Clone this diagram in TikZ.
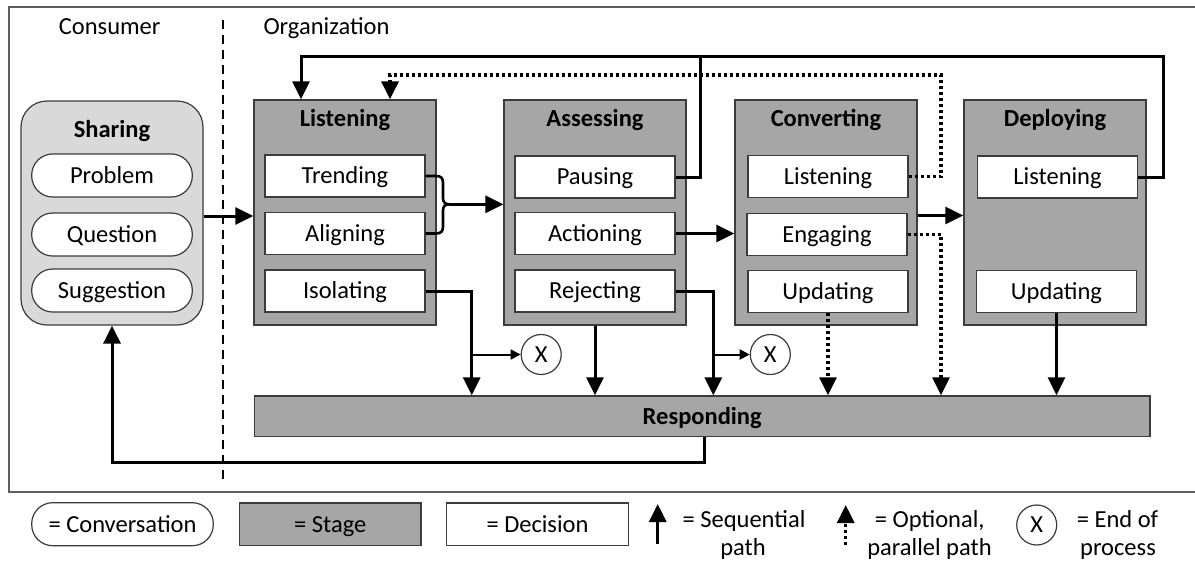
\documentclass[tikz,border=0pt]{standalone}
\usepackage{fontspec}
\setmainfont{Carlito}
\usetikzlibrary{arrows.meta}

\definecolor{stagegray}{HTML}{A6A6A6}
\definecolor{sharegray}{HTML}{D9D9D9}
\definecolor{edgegray}{HTML}{3C3C3C}
\definecolor{framegray}{HTML}{5E5E5E}

\begin{document}
\begin{tikzpicture}[x=1pt,y=-1pt,
  font=\fontsize{24.5}{28.5}\selectfont,
  every node/.style={text height=20.8pt, text depth=5pt, inner sep=0pt},
  stagebox/.style={draw=edgegray, line width=1.3pt, fill=stagegray,
    minimum width=182pt, minimum height=225pt},
  decision/.style={draw=edgegray, line width=1.3pt, fill=white,
    minimum width=160pt, minimum height=42pt},
  convo/.style={draw=edgegray, line width=1.2pt, fill=white,
    rounded corners=21pt, minimum width=160.6pt, minimum height=43pt},
  title/.style={font=\fontsize{24.5}{28.5}\selectfont\bfseries},
  endx/.style={circle, draw=edgegray, line width=1.2pt, fill=white,
    minimum size=40pt, text height=15.8pt, text depth=0pt},
  seqline/.style={line width=3pt, line join=miter},
  seq/.style={seqline, -{Triangle[length=18pt,width=17pt]}},
  optline/.style={line width=3.2pt, dash pattern=on 3pt off 3pt},
  opt/.style={optline, -{Triangle[length=18pt,width=17pt]}},
  branch/.style={line width=2pt, -{Triangle[length=10pt,width=10pt]}},
  lane/.style={line width=2pt, dash pattern=on 9pt off 6pt},
  frame/.style={draw=framegray, line width=2pt}
]
\useasboundingbox (0,0) rectangle (1195,562);

% outer frame (open to the right)
\draw[frame] (1195,6.7) -- (9.3,6.7) -- (9.3,491.7) -- (1195,491.7);

% swim-lane divider and lane labels
\coordinate (laneTop) at (222.7,20);
\coordinate (laneBot) at (222.7,482);
\draw[lane] (laneTop) -- (laneBot);
\node (consumer) at (109.7,26.7) {Consumer};
\node (org) at (326.5,26.7) {Organization};

% consumer side: sharing conversations
\node[draw=edgegray, line width=1.2pt, fill=sharegray, rounded corners=26pt,
  minimum width=182pt, minimum height=224pt] (sharing) at (112,213) {};
\node[title] (sharingT) at (112,130) {Sharing};
\node[convo] (problem) at (112,175.5) {Problem};
\node[convo] (question) at (112,234.5) {Question};
\node[convo] (suggestion) at (112,290.5) {Suggestion};

% organization stages
\node[stagebox] (listenS) at (345,212.5) {};
\node[stagebox] (assessS) at (595,212.5) {};
\node[stagebox] (convS) at (826,212.5) {};
\node[stagebox] (deploS) at (1055,212.5) {};

\node[title] (listenT) at (345,118.5) {Listening};
\node[title] (assessT) at (595,118.5) {Assessing};
\node[title] (convT) at (826,118.5) {Converting};
\node[title] (deploT) at (1055,118.5) {Deploying};

% decisions inside the stages
\node[decision] (trending) at (345,176) {Trending};
\node[decision] (aligning) at (345,233.5) {Aligning};
\node[decision] (isolating) at (345,291) {Isolating};

\node[decision] (pausing) at (595,177) {Pausing};
\node[decision] (actioning) at (595,233.5) {Actioning};
\node[decision] (rejecting) at (595,291) {Rejecting};

\node[decision] (clisten) at (828,176.5) {Listening};
\node[decision] (engaging) at (827,234.5) {Engaging};
\node[decision] (cupdating) at (828,291.3) {Updating};

\node[decision] (dlisten) at (1057.5,177) {Listening};
\node[decision] (dupdating) at (1056.5,291.3) {Updating};

% responding stage
\node[draw=edgegray, line width=1.3pt, fill=stagegray, minimum width=895.7pt,
  minimum height=40.7pt, title] (resp) at (702.2,416.3) {Responding};

% end-of-process markers
\node[endx] (x1) at (541.2,354.5) {X};
\node[endx] (x2) at (770.3,354.5) {X};

% sharing enters listening
\draw[seq] ([yshift=-3pt]sharing.east) -- ([yshift=-3pt]sharing.east -| listenS.west);

% trending and aligning merge into assessing
\coordinate (braceTip) at (449,204.3);
\draw[seqline, line width=2.6pt] (trending.east) -- (436,176)
  .. controls (441,176) and (443,178) .. (443,183) -- (443,198)
  .. controls (443,202) and (445,204.3) .. (braceTip);
\draw[seqline, line width=2.6pt] (aligning.east) -- (436,233.5)
  .. controls (441,233.5) and (443,231.5) .. (443,226.5) -- (443,210.5)
  .. controls (443,206.5) and (445,204.3) .. (braceTip);
\draw[seq] (braceTip) -- (braceTip -| assessS.west);

% actioning to converting, converting to deploying
\draw[seq] (actioning.east) -- (actioning.east -| convS.west);
\draw[seq] ([yshift=-3pt]convS.east) -- ([yshift=-3pt]convS.east -| deploS.west);

% loops back to listening
\coordinate (topJoin) at (700,56);
\coordinate (topRight) at (1163.3,56);
\draw[seq] (pausing.east) -| (topJoin) -| ([xshift=-44pt]listenS.north);
\draw[seqline] (dlisten.east) -| (topRight) -- (topJoin);

\coordinate (dotTop) at (941,75);
\draw[opt] (clisten.east) -| (dotTop) -| ([xshift=45pt]listenS.north);

% paths down to responding
\coordinate (isoTurn) at (471.7,291);
\draw[seq] (isolating.east) -| (isoTurn |- resp.north);
\draw[branch] (isoTurn |- x1) -- (x1.west);

\draw[seq] (assessS.south) -- (assessS.south |- resp.north);

\coordinate (rejTurn) at (713.3,291);
\draw[seq] (rejecting.east) -| (rejTurn |- resp.north);
\draw[branch] (rejTurn |- x2) -- (x2.west);

\draw[opt] (cupdating.south) -- (cupdating.south |- resp.north);
\coordinate (engTurn) at (941,234.5);
\draw[opt] (engaging.east) -| (engTurn |- resp.north);
\draw[seq] (dupdating.south) -- (dupdating.south |- resp.north);

% responding returns to the consumer
\coordinate (fbBottom) at (704,462.3);
\draw[seq] (fbBottom |- resp.south) -- (fbBottom) -| (sharing.south);

% legend
\node[convo, minimum width=181.6pt] (lgConv) at (122.5,524.2) {= Conversation};
\node[stagebox, minimum width=181.7pt, minimum height=42.7pt] (lgStage) at (330.2,524.3) {= Stage};
\node[decision, minimum width=181.6pt, minimum height=42.7pt] (lgDec) at (537.5,524.3) {= Decision};

\coordinate (lgSeqA) at (657.7,544);
\coordinate (lgSeqB) at (657.7,504);
\draw[seq] (lgSeqA) -- (lgSeqB);
\node[anchor=base, text height=, text depth=] (lgSeq1) at (744,527.5) {= Sequential};
\node[anchor=base, text height=, text depth=] (lgSeq2) at (743,555) {path};

\coordinate (lgOptA) at (845.7,545);
\coordinate (lgOptB) at (845.7,505);
\draw[opt] (lgOptA) -- (lgOptB);
\node[anchor=base, text height=, text depth=] (lgOpt1) at (929.7,527.5) {= Optional,};
\node[anchor=base, text height=, text depth=] (lgOpt2) at (929.5,555) {parallel path};

\node[endx] (lgEnd) at (1036.7,525) {X};
\node[anchor=base, text height=, text depth=] (lgEnd1) at (1117.5,527.5) {= End of};
\node[anchor=base, text height=, text depth=] (lgEnd2) at (1118,555) {process};
\end{tikzpicture}
\end{document}
